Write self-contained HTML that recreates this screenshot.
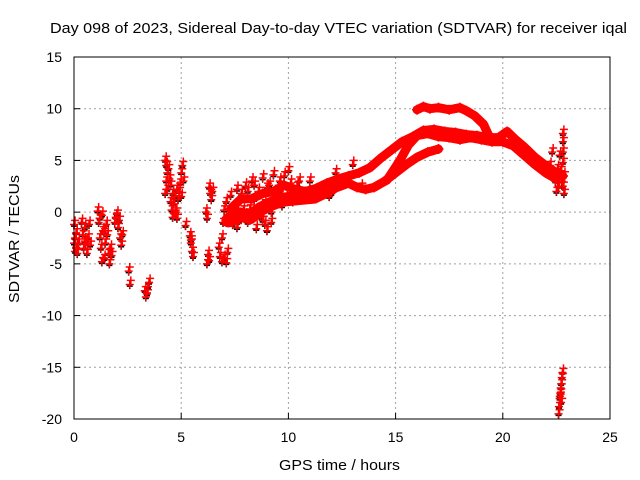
<!DOCTYPE html>
<html><head><meta charset="utf-8"><style>
html,body{margin:0;padding:0;background:#fff;}
svg{display:block;font-family:"Liberation Sans",sans-serif;}
</style></head><body>
<svg id="chart" width="640" height="480" xmlns="http://www.w3.org/2000/svg">
<rect width="640" height="480" fill="#fff"/>
<text x="50" y="33" font-size="15" textLength="577" lengthAdjust="spacingAndGlyphs">Day 098 of 2023, Sidereal Day-to-day VTEC variation (SDTVAR) for receiver iqal</text>
<text x="279" y="470" font-size="15" textLength="121" lengthAdjust="spacingAndGlyphs">GPS time / hours</text>
<text transform="translate(19,303) rotate(-90)" font-size="15" textLength="128" lengthAdjust="spacingAndGlyphs">SDTVAR / TECUs</text>
<g id="grid"></g><g id="marks"></g><g id="axes"></g>
</svg>
<script>
const xTicks=[0,5,10,15,20,25];
const yTicks=[-20,-15,-10,-5,0,5,10,15];
// dense tracks [hour, TECU]
const trackUpper=[[16.0,9.9],[16.3,10.2],[16.6,10.0],[17.0,10.1],[17.5,9.9],[18.0,10.1],[18.3,9.8],[18.7,9.3],[19.1,8.5],[19.3,7.6]];
const trackMain=[[7.3,0.3],[7.8,1.3],[8.3,1.3],[8.8,1.8],[9.3,2.0],[9.8,2.6],[10.3,2.2],[10.8,2.0],[11.3,2.3],[11.8,2.8],[12.3,3.2],[12.8,3.5],[13.3,3.8],[13.8,4.3],[14.3,5.2],[14.8,6.0],[15.3,6.8],[15.8,7.3],[16.3,7.9],[16.8,8.0],[17.3,7.8],[17.8,7.7],[18.3,7.5],[18.8,7.4],[19.3,7.2],[19.8,7.2],[20.2,7.8],[20.6,7.0],[21.0,6.3],[21.5,5.3],[22.0,4.5],[22.5,3.8],[22.8,3.5]];
const trackBase=[[7.2,-0.8],[7.7,-0.2],[8.2,-0.5],[8.7,0.3],[9.2,0.8],[9.7,1.2],[10.2,1.3],[10.7,1.4],[11.2,1.5],[11.7,2.0],[12.2,2.6],[12.6,2.9]];
const trackLower=[[12.6,3.0],[13.2,2.4],[13.6,2.2],[14.0,2.4],[14.5,3.0],[15.0,3.8],[15.5,4.6],[16.0,5.3],[16.5,5.8],[17.0,6.1]];
const trackInner=[[14.6,3.1],[15.2,5.0],[15.6,6.5],[16.0,7.4],[16.5,7.6],[17.0,7.3],[17.5,7.2],[18.0,7.0],[18.5,7.2],[19.0,7.0],[19.5,6.8],[20.0,6.8],[20.5,6.4],[21.0,5.5],[21.5,4.6],[22.0,3.8],[22.5,3.2]];
// scattered points [hour, TECU]
const scatterEarly=[[0.0,-1.2],[0.05,-2.5],[0.1,-3.5],[0.15,-4.0],[0.1,-2.0],[0.2,-3.0],[0.05,-3.8],[0.0,-3.0],[0.35,-1.0],[0.4,-2.2],[0.45,-3.5],[0.5,-1.5],[0.55,-3.0],[0.6,-4.0],[0.65,-2.5],[0.7,-1.2],[0.75,-3.2],[0.5,-2.8],[1.1,0.1],[1.15,-1.0],[1.2,-2.5],[1.25,-3.5],[1.3,-0.3],[1.35,-1.8],[1.4,-4.5],[1.45,-3.0],[1.5,-1.2],[1.55,-2.2],[1.6,-4.0],[1.65,-5.0],[1.7,-3.5],[1.75,-4.2],[1.3,-4.8],[1.2,-0.6],[1.4,-2.0],[1.9,-1.0],[1.95,-0.5],[2.0,-0.2],[2.05,-1.5],[2.1,-0.8],[2.15,-2.5],[2.2,-3.2],[2.25,-2.2],[2.55,-5.7],[2.6,-7.0],[3.3,-7.6],[3.35,-8.2],[3.4,-7.9],[3.45,-7.2],[3.5,-6.8],[4.25,5.0],[4.3,4.5],[4.35,3.8],[4.3,3.0],[4.35,2.2],[4.4,4.2],[4.45,3.2],[4.5,2.6],[4.25,1.8],[4.5,1.0],[4.55,0.2],[4.6,-0.5],[4.65,0.8],[4.7,1.5],[4.75,0.0],[4.8,-0.6],[4.85,1.2],[4.9,2.0],[4.95,2.8],[5.0,3.8],[5.05,4.5],[5.0,1.5],[5.1,3.0],[4.6,1.8],[4.8,2.2],[4.7,-0.2],[5.2,-1.3],[5.4,-2.3],[5.45,-3.0],[5.5,-3.8],[5.55,-4.3],[5.45,-2.7],[6.15,0.0],[6.2,-0.6],[6.3,2.4],[6.35,1.8],[6.4,1.2],[6.45,2.0],[6.25,-4.1],[6.3,-4.7],[6.2,-5.0],[6.75,-3.4],[6.8,-4.3],[6.9,-4.8],[7.0,-4.5],[7.1,-4.9],[7.15,-3.9],[6.9,-2.5],[6.95,-1.0],[7.0,0.2],[7.1,1.0],[7.2,-0.5],[7.3,1.6],[7.4,-1.2],[7.5,0.5],[7.6,2.2],[7.7,-0.8],[7.8,1.8],[7.9,0.2],[8.0,2.5],[8.1,-1.0],[8.2,0.3],[8.3,3.0],[8.4,1.2],[8.5,-1.6],[8.6,2.0],[8.7,-0.5],[8.8,3.3],[8.9,0.8],[9.0,-1.8],[9.1,2.6],[9.2,0.0],[9.3,3.6],[9.4,1.0],[9.5,2.2],[9.6,3.0],[9.7,0.6],[9.8,3.5],[9.9,1.4],[10.0,4.0],[10.1,2.8],[10.2,1.0],[10.5,3.0],[10.8,1.2],[11.0,3.0],[11.3,1.3],[11.6,2.2],[11.9,1.5],[12.2,3.8],[12.5,2.8],[13.0,4.6],[13.4,2.4],[12.0,1.8],[8.1,2.0],[8.4,2.6],[8.9,-1.2],[9.0,2.4],[9.6,2.0],[10.4,2.5],[7.6,-1.5],[8.0,-0.4],[8.8,-0.8],[9.2,-1.0]];
const scatterLate=[[22.45,3.0],[22.5,2.0],[22.55,4.2],[22.6,2.5],[22.65,5.5],[22.7,4.0],[22.75,3.0],[22.8,7.6],[22.8,6.8],[22.8,5.8],[22.8,4.8],[22.85,3.5],[22.8,2.5],[22.85,1.8],[22.3,5.8],[22.2,4.5],[22.6,-19.5],[22.62,-18.8],[22.65,-18.0],[22.68,-17.5],[22.7,-17.0],[22.72,-16.6],[22.75,-16.0],[22.78,-15.5],[22.66,-17.8],[22.72,-18.4]];

const X0=74,X1=610,Y0=419,Y1=57;
const xs=h=>X0+(h-0)/(25-0)*(X1-X0);
const ys=v=>Y0-(v+20)/35*(Y0-Y1);
const NS="http://www.w3.org/2000/svg";
function mk(tag,attrs,parent){const e=document.createElementNS(NS,tag);for(const k in attrs)e.setAttribute(k,attrs[k]);parent.appendChild(e);return e;}
const grid=document.getElementById('grid'),marks=document.getElementById('marks'),axes=document.getElementById('axes');
xTicks.forEach(t=>{
  if(t>0&&t<25){const g=mk('line',{x1:xs(t),x2:xs(t),y1:Y1,y2:Y0,stroke:'#a0a0a0','stroke-dasharray':'2,3'},grid);
  
  }
  const tk=mk('line',{x1:xs(t),x2:xs(t),y1:Y0,y2:Y0-6,stroke:'#000'},axes);
  
  
  const tl=mk('text',{x:xs(t),y:Y0+23,'text-anchor':'middle','font-size':14},axes);tl.textContent=t;
  
  
});
yTicks.forEach(t=>{
  if(t>-20&&t<15){const g=mk('line',{x1:X0,x2:X1,y1:ys(t),y2:ys(t),stroke:'#a0a0a0','stroke-dasharray':'2,3'},grid);
  
  }
  const tk=mk('line',{x1:X0,x2:X0+6,y1:ys(t),y2:ys(t),stroke:'#000'},axes);
  
  
  const tl=mk('text',{x:X0-12,y:ys(t)+5,'text-anchor':'end','font-size':14},axes);tl.textContent=t;
  
  
});
const frame=mk('rect',{x:X0,y:Y1,width:X1-X0,height:Y0-Y1,fill:'none',stroke:'#000'},axes);


function plus(h,v,color,s){
  const p=mk('path',{d:`M${xs(h)-s},${ys(v)}h${2*s}M${xs(h)},${ys(v)-s}v${2*s}`,stroke:color,'stroke-width':1.5,fill:'none'},marks);
  
  
}
scatterEarly.concat(scatterLate).forEach(p=>{plus(p[0],p[1]-0.15,'#000',3);});
[trackUpper,trackMain,trackBase,trackLower,trackInner].forEach(tr=>{
  const pl=mk('polyline',{points:tr.map(p=>xs(p[0])+','+ys(p[1])).join(' '),stroke:'#f00','stroke-width':tr===trackBase?14:9,fill:'none','stroke-linejoin':'round','stroke-linecap':'round'},marks);
  
  
  tr.forEach(p=>plus(p[0],p[1],'#f00',5));
});
scatterEarly.concat(scatterLate).forEach(p=>{plus(p[0],p[1],'#f00',4);plus(p[0]+0.05,p[1]+0.4,'#f00',4);});
</script>
</body></html>
